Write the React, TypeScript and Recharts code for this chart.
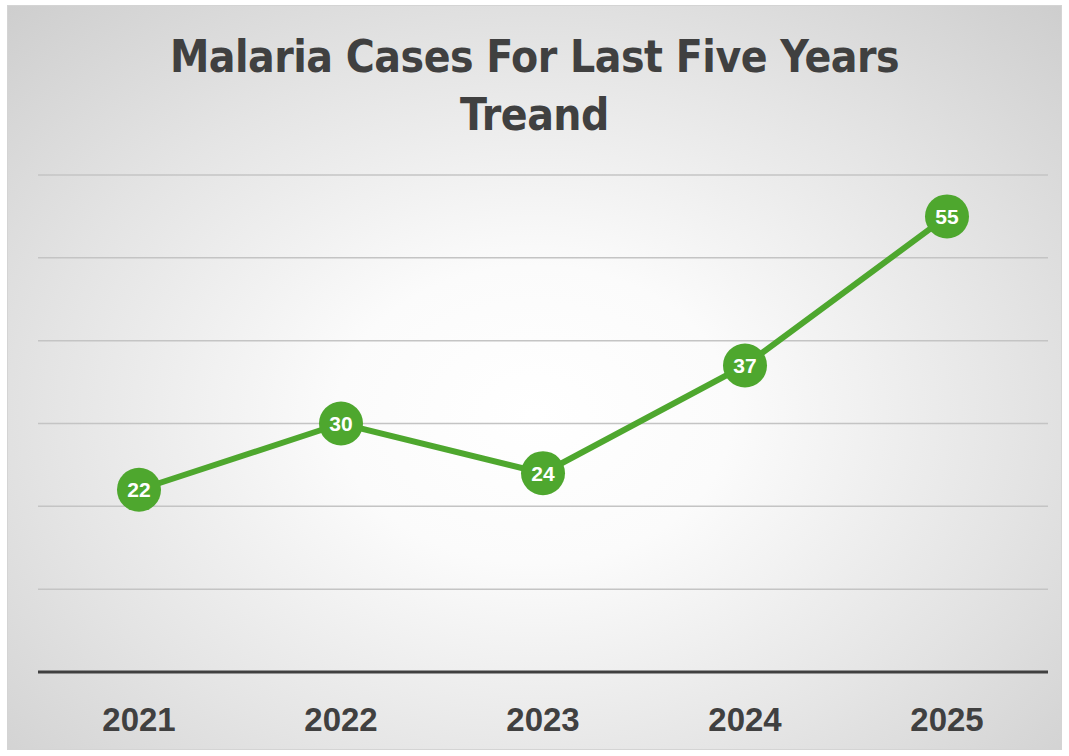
import { LineChart, Line, XAxis, YAxis, CartesianGrid, LabelList } from 'recharts';

const years = ['2021', '2022', '2023', '2024', '2025'];
const cases = [22, 30, 24, 37, 55];
const yTicks = [0, 10, 20, 30, 40, 50, 60];

const data = years.map((year, i) => ({ year, cases: cases[i] }));

const GREEN = '#4EA72E';
const DARK = '#404040';

export default function App() {
  return (
    <div
      style={{
        position: 'absolute',
        left: 7,
        top: 5,
        width: 1055,
        height: 745,
        border: '1px solid #d4d4d4',
        boxSizing: 'border-box',
        background:
          'radial-gradient(ellipse 75% 80% at 50% 55%, #ffffff 0%, #fbfbfb 25%, #e4e4e4 62%, #cbcbcb 100%)',
        fontFamily: '"Liberation Sans", Arial, sans-serif',
      }}
    >
      <div
        style={{
          position: 'absolute',
          left: 0,
          right: 0,
          top: 22,
          textAlign: 'center',
          fontFamily: '"DejaVu Sans Condensed", "Liberation Sans Narrow", sans-serif',
          fontWeight: 700,
          fontSize: 44,
          letterSpacing: -0.5,
          lineHeight: '58px',
          color: DARK,
        }}
      >
        Malaria Cases For Last Five Years
        <br />
        Treand
      </div>
      <LineChart
        width={1053}
        height={743}
        data={data}
        margin={{ top: 169, right: 13, bottom: 0, left: 30 }}
      >
        <CartesianGrid vertical={false} stroke="#c4c4c4" strokeWidth={1.5} />
        <XAxis
          dataKey="year"
          padding={{ left: 101, right: 101 }}
          height={77}
          tickLine={false}
          axisLine={{ stroke: DARK, strokeWidth: 3 }}
          tick={{ fill: DARK, fontSize: 33, fontWeight: 700 }}
          tickMargin={30}
        />
        <YAxis hide domain={[0, 60]} ticks={yTicks} />
        <Line
          type="linear"
          dataKey="cases"
          stroke={GREEN}
          strokeWidth={6}
          dot={{ r: 22, fill: GREEN, stroke: 'none' }}
          activeDot={false}
          isAnimationActive={false}
        >
          <LabelList
            dataKey="cases"
            position="center"
            fill="#ffffff"
            fontSize={21}
            fontWeight={700}
          />
        </Line>
      </LineChart>
    </div>
  );
}
